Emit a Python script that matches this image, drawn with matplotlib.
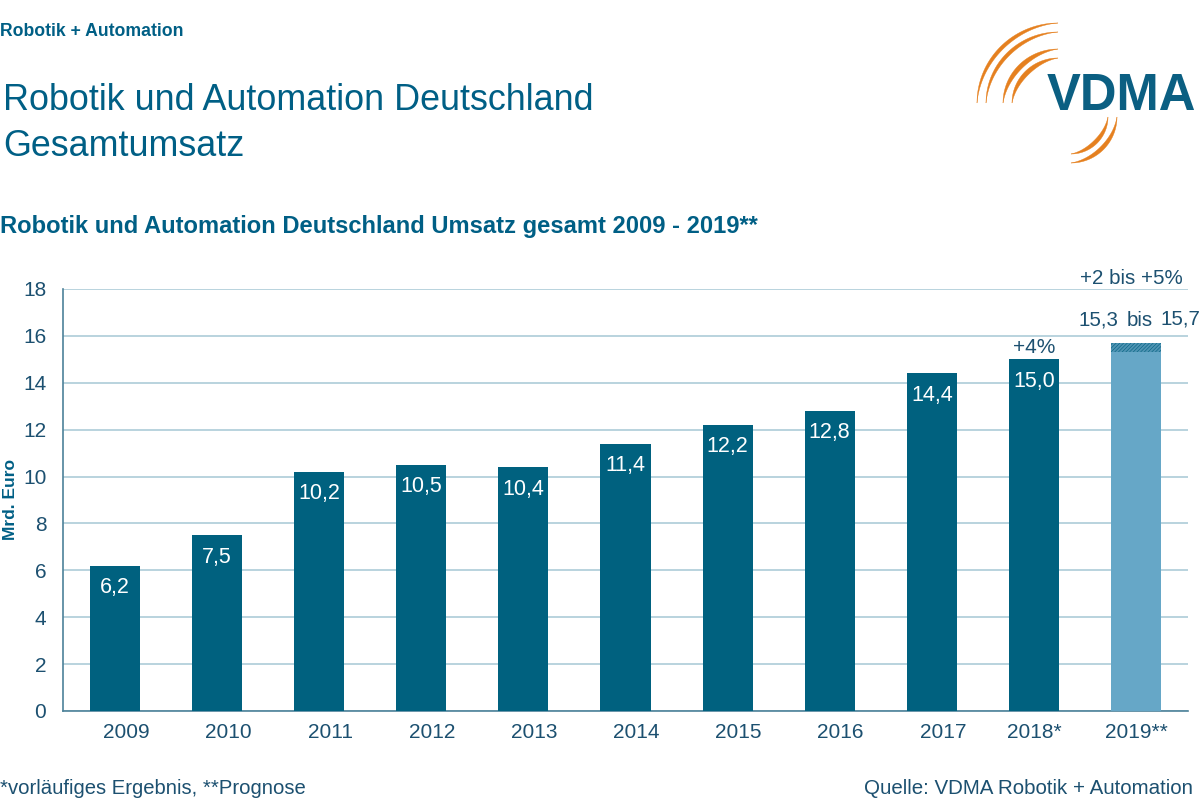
import numpy as np
import matplotlib
matplotlib.use('Agg')
import matplotlib.pyplot as plt
from matplotlib.transforms import ScaledTranslation

plt.rcParams['font.family'] = ['Liberation Sans', 'DejaVu Sans']
plt.rcParams['hatch.linewidth'] = 0.4

years = ['2009', '2010', '2011', '2012', '2013', '2014', '2015', '2016', '2017', '2018*', '2019**']
umsatz = [6.2, 7.5, 10.2, 10.5, 10.4, 11.4, 12.2, 12.8, 14.4, 15.0, 15.3]
labels = ['6,2', '7,5', '10,2', '10,5', '10,4', '11,4', '12,2', '12,8', '14,4', '15,0', '']
prognose_range = 0.4  # 15,3 bis 15,7
y_ticks = [0, 2, 4, 6, 8, 10, 12, 14, 16, 18]

dark = '#00617f'
light = '#66a7c7'
text_col = '#1c5070'
title_col = '#005f85'
grid_col = '#a6c7d4'
orange = '#e5801f'

fig = plt.figure(figsize=(12, 8), dpi=100)

ax = fig.add_axes([63 / 1200, 1 - 711 / 800, 1125 / 1200, 422 / 800])
x = np.arange(len(years))
colors = [dark] * 10 + [light]
ax.bar(x, umsatz, width=0.49, color=colors, zorder=3)
ax.bar(x[-1], prognose_range, bottom=umsatz[-1], width=0.49, color='#4f93b3',
       edgecolor=dark, hatch='/////////', linewidth=0, zorder=3)

for i, lab in enumerate(labels):
    ax.text(i, umsatz[i] - 0.49, lab, color='white', fontsize=15.5, ha='center', va='top', zorder=4)

ax.set_xlim(-0.51, 10.51)
ax.set_ylim(0, 18)
ax.set_yticks(y_ticks)
ax.set_xticks(x)
ax.set_xticklabels(years)
ax.tick_params(axis='both', length=0, labelsize=15, labelcolor=text_col)
ax.tick_params(axis='x', pad=9)
ax.tick_params(axis='y', pad=12)
ax.grid(axis='y', color=grid_col, linewidth=1.1, zorder=0)
for s in ['top', 'right']:
    ax.spines[s].set_visible(False)
for s in ['left', 'bottom']:
    ax.spines[s].set_color('#4d8299')
    ax.spines[s].set_linewidth(1.2)

# year labels sit right of the bars except for the last two
for lab in ax.get_xticklabels()[:9]:
    lab.set_transform(lab.get_transform() + ScaledTranslation(11 / 100, 0, fig.dpi_scale_trans))

ax.text(9, 15.12, '+4%', color=text_col, fontsize=15, ha='center', va='bottom')

# overlay in pixel coords for texts and logo
bg = fig.add_axes([0, 0, 1, 1], zorder=5)
bg.set_xlim(0, 1200)
bg.set_ylim(800, 0)
bg.axis('off')

bg.text(0, 31, 'Robotik + Automation', fontsize=12.7, fontweight='bold', color=title_col, va='center')
bg.text(3, 100, 'Robotik und Automation Deutschland', fontsize=25.8, color=title_col, va='center')
bg.text(3, 146, 'Gesamtumsatz', fontsize=25.8, color=title_col, va='center')
bg.text(0, 226, 'Robotik und Automation Deutschland Umsatz gesamt 2009 - 2019**', fontsize=17.1,
        fontweight='bold', color=title_col, va='center')
bg.text(11, 500, 'Mrd. Euro', fontsize=12.5, fontweight='bold', color=title_col, rotation=90,
        ha='center', va='center')
bg.text(1131, 278, '+2 bis +5%', fontsize=14.8, color=text_col, ha='center', va='center')
bg.text(1098, 320, '15,3', fontsize=14.8, color=text_col, ha='center', va='center')
bg.text(1140, 321, 'bis', fontsize=14.8, color=text_col, ha='center', va='center')
bg.text(1180, 319, '15,7', fontsize=14.8, color=text_col, ha='center', va='center')
bg.text(0, 789, '*vorläufiges Ergebnis, **Prognose', fontsize=14.55, color=text_col, va='center')
bg.text(1193, 789, 'Quelle: VDMA Robotik + Automation', fontsize=14.8, color=text_col, ha='right', va='center')

# logo
bg.text(1121, 96, 'VDMA', fontsize=36.5, fontweight='bold', color='#0b5f82', ha='center', va='center')


def crescent(x0, y0, x1, y1, thick):
    # quarter ellipse from (x0, y0) to (x1, y1), thickest in the middle
    t = np.linspace(0, np.pi / 2, 40)
    cx, cy = x1, y0
    rx, ry = x1 - x0, y1 - y0
    ox = cx - rx * np.cos(t)
    oy = cy + ry * np.sin(t)
    sx = np.sign(rx) * thick * np.sin(2 * t) * np.cos(t)
    sy = np.sign(ry) * thick * np.sin(2 * t) * np.sin(t)
    bg.fill(np.r_[ox, (ox + sx)[::-1]], np.r_[oy, (oy - sy)[::-1]], color=orange, lw=0.3)


for a in [(977, 103, 1058, 23, 3.5), (986, 103, 1058, 32, 3.5), (1003, 103, 1058, 49, 4.5),
          (1012, 103, 1058, 58, 4.5), (1108, 117, 1071, 154, 4), (1117, 117, 1071, 163, 4)]:
    crescent(*a)

fig.savefig('out.png', dpi=100)
